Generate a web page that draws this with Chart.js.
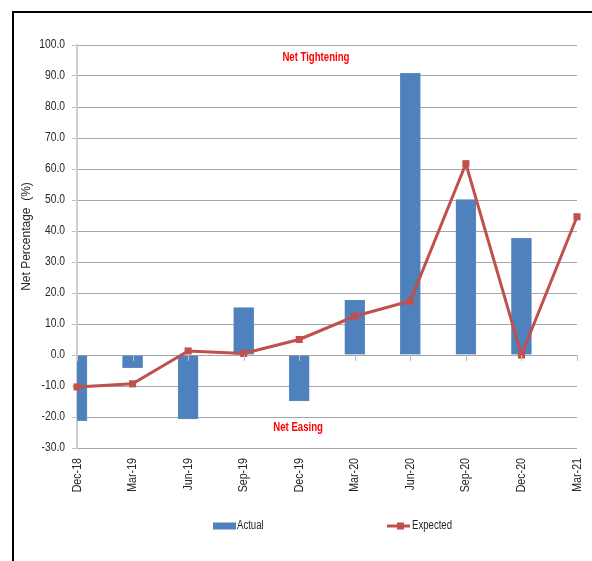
<!DOCTYPE html>
<html>
<head>
<meta charset="utf-8">
<script src="https://cdn.jsdelivr.net/npm/chart.js@4"></script>
<style>
  html, body { margin: 0; padding: 0; background: #fff; }
  #wrap { position: relative; width: 592px; height: 561px; overflow: hidden; }
  #frame { position: absolute; left: 12px; top: 11px; width: 640px; height: 640px;
           border-left: 2px solid #000; border-top: 2px solid #000; }
  canvas { position: absolute; left: 0; top: 0; }
</style>
</head>
<body>
<div id="wrap">
  <div id="frame"></div>
  <canvas id="c" width="592" height="561"></canvas>
</div>
<script>
// quarters
const categories = ['Dec-18', 'Mar-19', 'Jun-19', 'Sep-19', 'Dec-19', 'Mar-20', 'Jun-20', 'Sep-20', 'Dec-20', 'Mar-21'];
const actual = [-21.2, -4.1, -20.6, 15.3, -14.8, 17.7, 90.9, 50.1, 37.6, null];
const expected = [-10.3, -9.3, 1.3, 0.5, 5.0, 12.5, 17.4, 61.7, 0.0, 44.6];

const yMin = -30, yMax = 100, yStep = 10;
const yTitle = 'Net Percentage  (%)';

// text notes placed on the value scales (category index, value)
const notes = [
  { text: 'Net Tightening', at: 4.3, value: 95.9 },
  { text: 'Net Easing', at: 3.98, value: -23.3 }
];

const BLUE = '#4f81bd';
const RED = '#c0504d';
const TEXT = '#262626';
const SANS = '"Liberation Sans", Arial, sans-serif';

// no narrow face installed, so squeeze Liberation Sans along the text
function narrowText(ctx, text, x, y, sx, align, rot) {
  ctx.save();
  ctx.translate(x, y);
  if (rot) ctx.rotate(rot);
  ctx.scale(sx, 1);
  ctx.textAlign = align;
  ctx.fillText(text, 0, 0);
  ctx.restore();
}

const extras = {
  id: 'extras',
  afterDraw(chart) {
    const { ctx, chartArea } = chart;
    const x = chart.scales.x, y = chart.scales.y;
    ctx.save();

    // category ticks hanging off the zero line
    const y0 = y.getPixelForValue(0);
    ctx.strokeStyle = '#bfbfbf';
    ctx.lineWidth = 1;
    categories.forEach((c, i) => {
      const px = Math.round(x.getPixelForValue(i)) + 0.5;
      ctx.beginPath();
      ctx.moveTo(px, y0);
      ctx.lineTo(px, y0 + 6);
      ctx.stroke();
    });

    ctx.fillStyle = TEXT;
    ctx.textBaseline = 'middle';

    // value labels
    ctx.font = '12px ' + SANS;
    y.ticks.forEach(t => {
      narrowText(ctx, t.value.toFixed(1), chartArea.left - 12, y.getPixelForValue(t.value), 0.86, 'right');
    });

    // quarter labels, reading upwards
    ctx.font = '13px ' + SANS;
    categories.forEach((c, i) => {
      narrowText(ctx, c, x.getPixelForValue(i), chartArea.bottom + 10, 0.82, 'right', -Math.PI / 2);
    });

    // axis title
    ctx.font = '12px ' + SANS;
    narrowText(ctx, yTitle, 27, (chartArea.top + chartArea.bottom) / 2 - 10, 1, 'center', -Math.PI / 2);

    // red notes
    ctx.fillStyle = '#ff0000';
    ctx.font = 'bold 12px ' + SANS;
    notes.forEach(n => {
      narrowText(ctx, n.text, x.getPixelForValue(n.at), y.getPixelForValue(n.value), 0.8, 'center');
    });

    // legend
    const bars = chart.data.datasets.find(d => d.type === 'bar');
    const line = chart.data.datasets.find(d => d.type === 'line');
    const cx = (chartArea.left + chartArea.right) / 2;
    const ly = 526;
    ctx.font = '12px ' + SANS;

    let lx = cx - 114;
    ctx.fillStyle = bars.backgroundColor;
    ctx.fillRect(lx, ly - 3.5, 23, 7);
    ctx.fillStyle = TEXT;
    narrowText(ctx, bars.label, lx + 24, ly, 0.8, 'left');

    lx = cx + 60;
    ctx.strokeStyle = line.borderColor;
    ctx.lineWidth = 3;
    ctx.beginPath();
    ctx.moveTo(lx, ly);
    ctx.lineTo(lx + 23, ly);
    ctx.stroke();
    ctx.fillStyle = line.borderColor;
    ctx.fillRect(lx + 10, ly - 3.5, 7, 7);
    ctx.fillStyle = TEXT;
    narrowText(ctx, line.label, lx + 25, ly, 0.8, 'left');

    ctx.restore();
  }
};

new Chart(document.getElementById('c'), {
  data: {
    labels: categories,
    datasets: [
      {
        type: 'line',
        label: 'Expected',
        data: expected,
        borderColor: RED,
        backgroundColor: RED,
        borderWidth: 3,
        pointStyle: 'rect',
        pointRadius: 5,
        pointBorderWidth: 0,
        tension: 0,
        order: 1
      },
      {
        type: 'bar',
        label: 'Actual',
        data: actual,
        backgroundColor: BLUE,
        borderColor: '#6f97c9',
        borderWidth: 0.5,
        barThickness: 20,
        clip: 0,
        order: 2
      }
    ]
  },
  options: {
    responsive: false,
    animation: false,
    devicePixelRatio: 1,
    layout: { padding: { left: 14, right: 15, top: 45, bottom: 0 } },
    plugins: {
      legend: { display: false },
      tooltip: { enabled: false }
    },
    scales: {
      x: {
        type: 'category',
        offset: false,
        grid: { display: false, drawTicks: false },
        border: { display: false },
        ticks: { display: false },
        afterFit(scale) { scale.height = 113; }
      },
      y: {
        min: yMin,
        max: yMax,
        grid: { color: '#a6a6a6', lineWidth: 1, tickLength: 5, tickColor: '#bfbfbf' },
        border: { display: true, color: '#d0d0d0', width: 2 },
        ticks: { display: false, stepSize: yStep },
        afterFit(scale) { scale.width = 63; }
      }
    }
  },
  plugins: [extras]
});
</script>
</body>
</html>
